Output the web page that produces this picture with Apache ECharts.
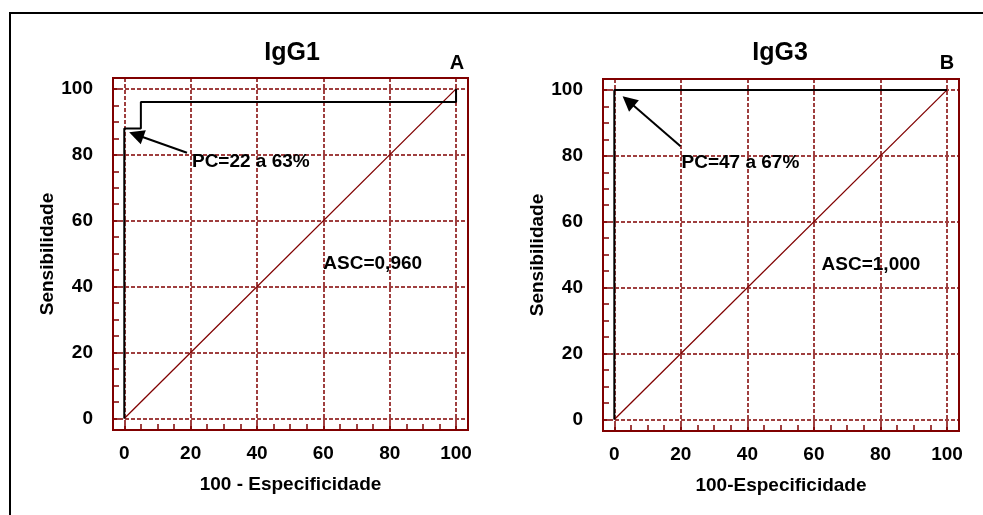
<!DOCTYPE html>
<html>
<head>
<meta charset="utf-8">
<script src="https://cdn.jsdelivr.net/npm/echarts@6/dist/echarts.min.js"></script>
<style>
  html, body { margin: 0; padding: 0; background: #fff; }
  #main { width: 983px; height: 515px; }
</style>
</head>
<body>
<div id="main"></div>
<script>
// ROC IgG1 (curva em degrau)
var rocX1 = [0, 0, 5, 5, 100, 100];
var rocY1 = [0, 88, 88, 96, 96, 100];
// ROC IgG3
var rocX3 = [0, 0, 100];
var rocY3 = [0, 100, 100];
// linha de referencia
var diagX = [0, 100];
var diagY = [0, 100];
// ticks
var majorTicks = [0, 20, 40, 60, 80, 100];
var minorTicks = [0, 5, 10, 15, 20, 25, 30, 35, 40, 45, 50, 55, 60, 65, 70, 75, 80, 85, 90, 95, 100];
// setas e textos (coordenadas em dados)
var arrow1 = [[18.9, 80.6], [3.6, 86.1]];
var arrow3 = [[19.9, 82.9], [4.2, 96.6]];
var pcText1 = ['PC=22 a 63%', 20.4, 77.8];
var ascText1 = ['ASC=0,960', 60.0, 46.8];
var pcText3 = ['PC=47 a 67%', 20.2, 78.0];
var ascText3 = ['ASC=1,000', 62.3, 47.0];

var FONT = 'Liberation Sans, Arial, sans-serif';
var RED = '#800000';
var FS = 19;

function zip(xs, ys) {
    var r = [];
    for (var i = 0; i < xs.length; i++) r.push([xs[i], ys[i]]);
    return r;
}

function majorX(gi, name) {
    return {
        type: 'value', gridIndex: gi, min: -3.4, max: 103.6,
        name: name, nameLocation: 'middle', nameGap: 45,
        nameTextStyle: { fontFamily: FONT, fontWeight: 'bold', fontSize: FS, color: '#000' },
        axisLine: { show: false, onZero: false },
        axisTick: { show: false, customValues: majorTicks },
        axisLabel: { customValues: majorTicks, margin: 14, fontFamily: FONT, fontWeight: 'bold', fontSize: FS, color: '#000' },
        splitLine: { show: true, lineStyle: { color: RED, width: 1.5, type: [4, 2] } }
    };
}
function minorX(gi) {
    return {
        type: 'value', gridIndex: gi, min: -3.4, max: 103.6, position: 'bottom',
        axisLine: { show: false, onZero: false },
        axisTick: { show: true, inside: true, length: 6, customValues: minorTicks, lineStyle: { color: RED, width: 1.5 } },
        axisLabel: { show: false },
        splitLine: { show: false }
    };
}
function majorY(gi) {
    return {
        type: 'value', gridIndex: gi, min: -3.5, max: 103.3,
        name: 'Sensibilidade', nameLocation: 'middle', nameGap: 56,
        nameTextStyle: { fontFamily: FONT, fontWeight: 'bold', fontSize: FS, color: '#000' },
        axisLine: { show: false, onZero: false },
        axisTick: { show: false, customValues: majorTicks },
        axisLabel: { customValues: majorTicks, margin: 20, fontFamily: FONT, fontWeight: 'bold', fontSize: FS, color: '#000' },
        splitLine: { show: true, lineStyle: { color: RED, width: 1.5, type: [4, 2] } }
    };
}
function minorY(gi) {
    return {
        type: 'value', gridIndex: gi, min: -3.5, max: 103.3, position: 'left',
        axisLine: { show: false, onZero: false },
        axisTick: { show: true, inside: true, length: 6, customValues: minorTicks, lineStyle: { color: RED, width: 1.5 } },
        axisLabel: { show: false },
        splitLine: { show: false }
    };
}

function textSeries(t, xi, yi) {
    return {
        type: 'scatter', xAxisIndex: xi, yAxisIndex: yi, symbolSize: 0, silent: true,
        itemStyle: { opacity: 1 },
        data: [[t[1], t[2]]],
        label: {
            show: true, position: [0, 0], align: 'left', verticalAlign: 'middle',
            formatter: t[0], fontFamily: FONT, fontWeight: 'bold', fontSize: FS,
            color: '#000', opacity: 1, textBorderWidth: 0
        }
    };
}
function arrowSeries(c, xi, yi) {
    return {
        type: 'lines', coordinateSystem: 'cartesian2d', xAxisIndex: xi, yAxisIndex: yi,
        symbol: ['none', 'triangle'], symbolSize: 15, silent: true,
        lineStyle: { color: '#000', width: 2, opacity: 1 },
        itemStyle: { color: '#000' },
        data: [{ coords: c }]
    };
}
function lineSeries(xs, ys, xi, yi, color, width) {
    return {
        type: 'line', xAxisIndex: xi, yAxisIndex: yi, data: zip(xs, ys),
        symbol: 'none', silent: true,
        lineStyle: { color: color, width: width }
    };
}

var chart = echarts.init(document.getElementById('main'));
chart.setOption({
    animation: false,
    backgroundColor: '#fff',
    grid: [
        { left: 113, top: 78, width: 355, height: 352, show: true, borderColor: RED, borderWidth: 2, backgroundColor: 'transparent' },
        { left: 603, top: 79, width: 356, height: 352, show: true, borderColor: RED, borderWidth: 2, backgroundColor: 'transparent' }
    ],
    xAxis: [majorX(0, '100 - Especificidade'), minorX(0), majorX(1, '100-Especificidade'), minorX(1)],
    yAxis: [majorY(0), minorY(0), majorY(1), minorY(1)],
    graphic: [
        { type: 'polyline', shape: { points: [[10, 515], [10, 13], [983, 13]] }, style: { stroke: '#000', lineWidth: 2, fill: null } },
        { type: 'text', x: 292, y: 53, style: { text: 'IgG1', align: 'center', verticalAlign: 'middle', font: 'bold 25px ' + FONT, fill: '#000' } },
        { type: 'text', x: 457, y: 63, style: { text: 'A', align: 'center', verticalAlign: 'middle', font: 'bold 20px ' + FONT, fill: '#000' } },
        { type: 'text', x: 780, y: 53, style: { text: 'IgG3', align: 'center', verticalAlign: 'middle', font: 'bold 25px ' + FONT, fill: '#000' } },
        { type: 'text', x: 947, y: 63, style: { text: 'B', align: 'center', verticalAlign: 'middle', font: 'bold 20px ' + FONT, fill: '#000' } }
    ],
    series: [
        lineSeries(diagX, diagY, 0, 0, RED, 1.3),
        lineSeries(rocX1, rocY1, 0, 0, '#000', 2),
        arrowSeries(arrow1, 0, 0),
        textSeries(pcText1, 0, 0),
        textSeries(ascText1, 0, 0),
        lineSeries(diagX, diagY, 2, 2, RED, 1.3),
        lineSeries(rocX3, rocY3, 2, 2, '#000', 2),
        arrowSeries(arrow3, 2, 2),
        textSeries(pcText3, 2, 2),
        textSeries(ascText3, 2, 2)
    ]
});
</script>
</body>
</html>
